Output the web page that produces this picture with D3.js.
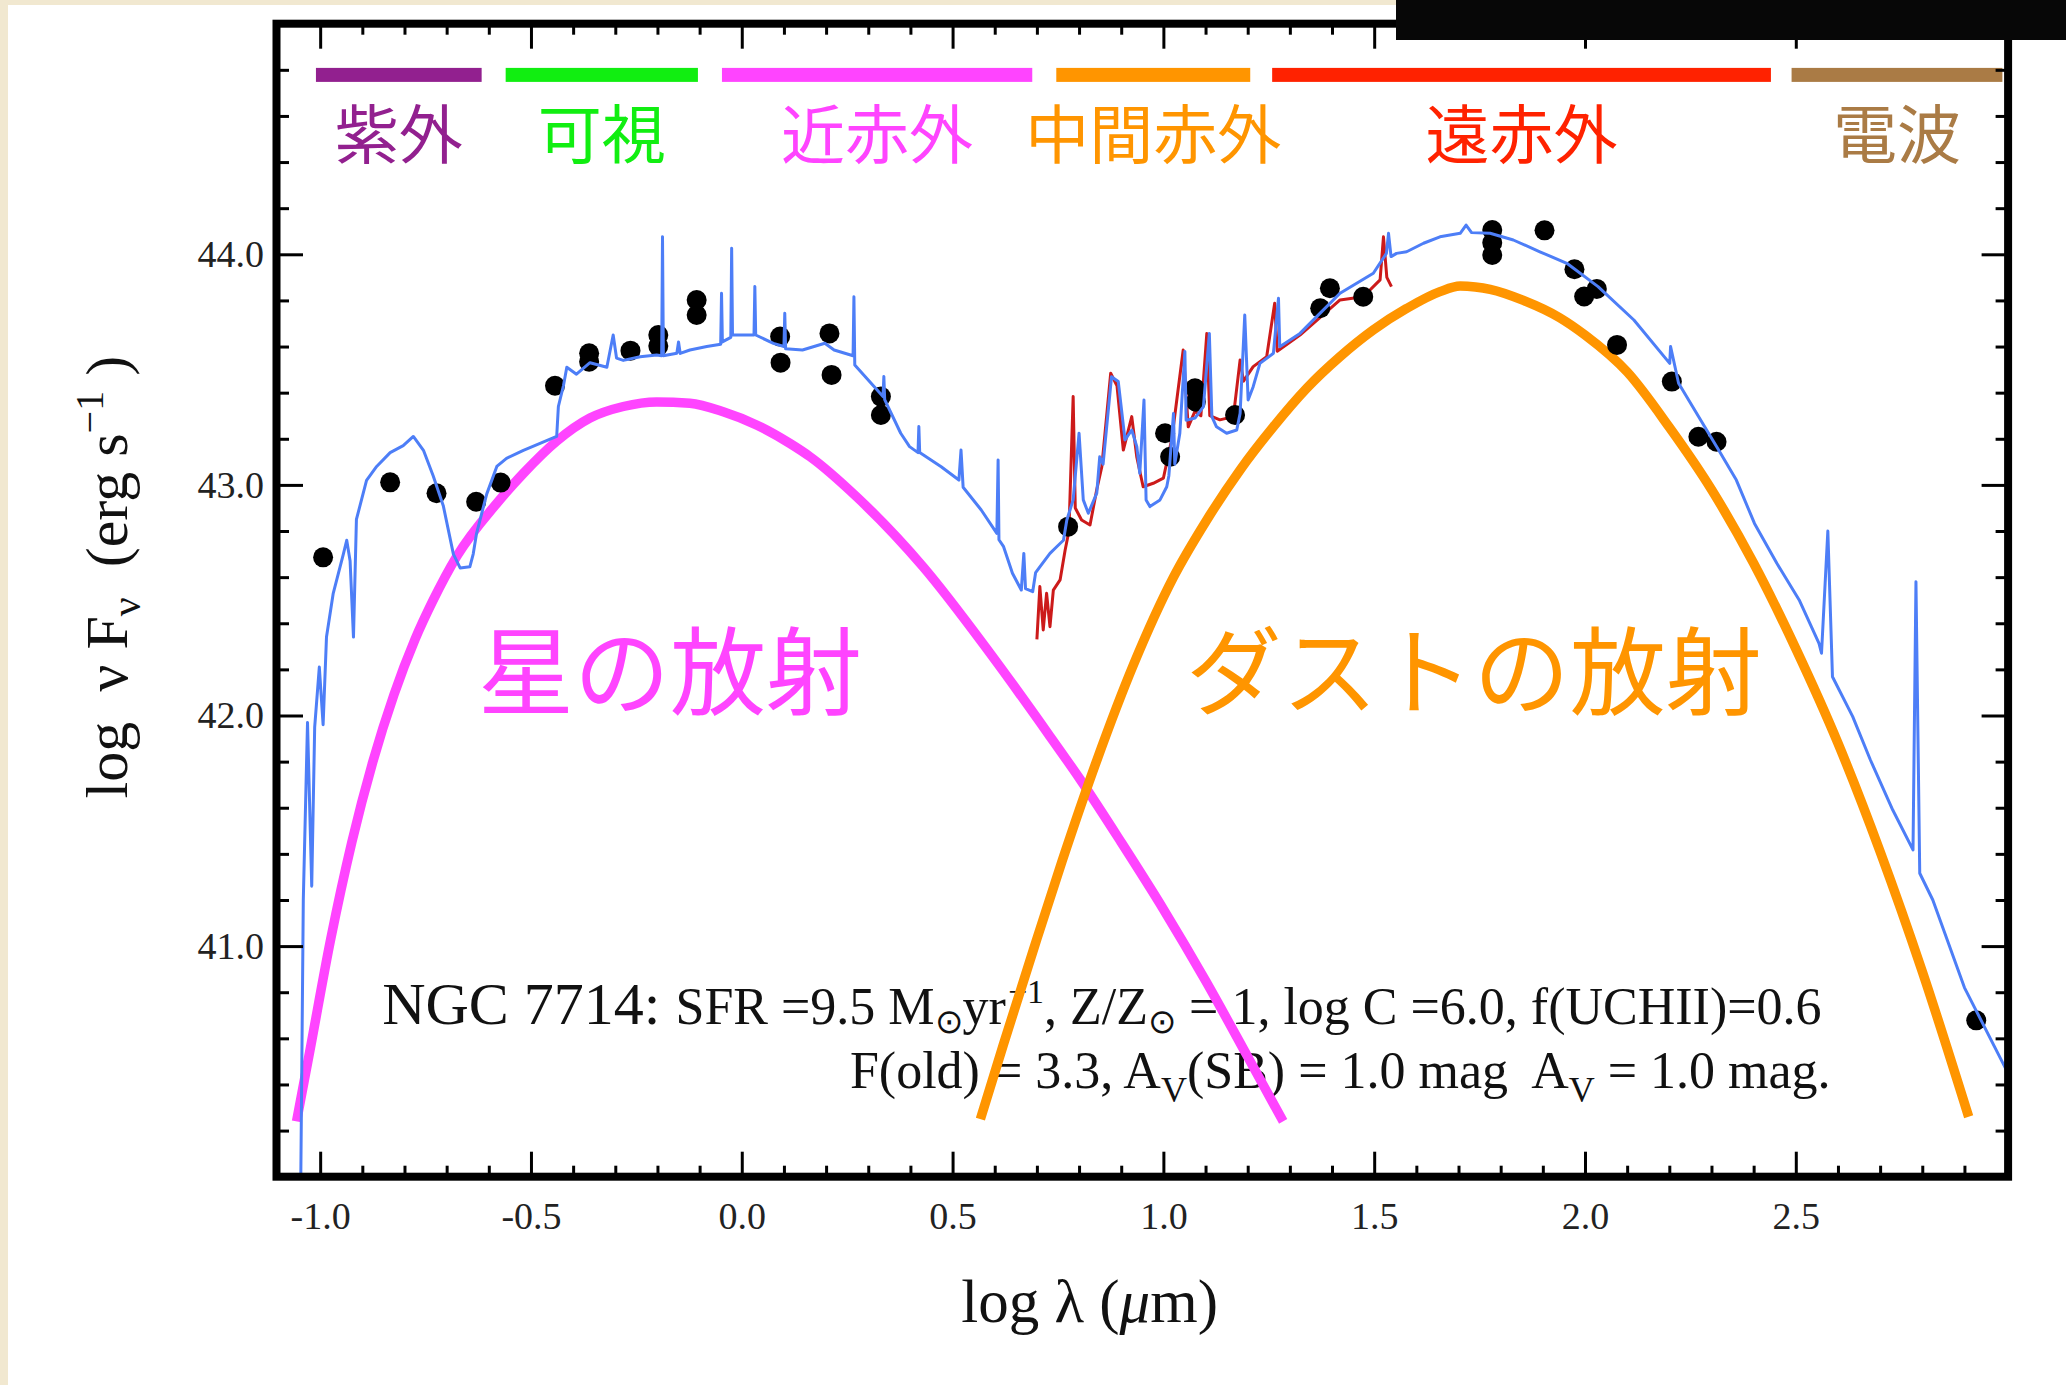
<!DOCTYPE html>
<html>
<head>
<meta charset="utf-8">
<script src="https://cdn.jsdelivr.net/npm/d3@7"></script>
<style>
  html, body { margin: 0; padding: 0; background: #f1e8d0; }
  svg { display: block; }
</style>
</head>
<body>
<div id="chart"></div>
<script>
// wavelength bands (log lambda), labels and colours
const bandNames = ['紫外', '可視', '近赤外', '中間赤外', '遠赤外', '電波'];
const bandStart = [-1.01, -0.56, -0.047, 0.746, 1.258, 2.49];
const bandEnd = [-0.617, -0.104, 0.689, 1.206, 2.441, 2.99];
const bandColors = ['#92208f', '#11ee11', '#ff44ff', '#ff9500', '#ff2200', '#aa7b45'];

// photometry points [log lambda, log nuFnu]
const photometry = [
  [-0.993, 42.686], [-0.834, 43.011], [-0.724, 42.964], [-0.630, 42.927], [-0.572, 43.010],
  [-0.443, 43.430], [-0.362, 43.571], [-0.362, 43.534], [-0.264, 43.582], [-0.198, 43.650],
  [-0.198, 43.602], [-0.107, 43.802], [-0.107, 43.737], [0.091, 43.643], [0.092, 43.530],
  [0.208, 43.657], [0.213, 43.477], [0.330, 43.383], [0.330, 43.303], [0.774, 42.819],
  [1.004, 43.224], [1.016, 43.122], [1.075, 43.419], [1.077, 43.361], [1.170, 43.303],
  [1.395, 43.853], [1.372, 43.766], [1.474, 43.816], [1.780, 44.105], [1.780, 44.050],
  [1.780, 43.997], [1.904, 44.104], [1.975, 43.935], [1.998, 43.817], [2.028, 43.850],
  [2.076, 43.607], [2.206, 43.448], [2.269, 43.209], [2.312, 43.187], [2.928, 40.678]
];

// stellar emission component
const stellar = [
  [-1.056, 40.24], [-1.025, 40.54], [-0.975, 41.03], [-0.925, 41.45], [-0.875, 41.80],
  [-0.825, 42.09], [-0.775, 42.33], [-0.732, 42.50], [-0.676, 42.69], [-0.581, 42.92],
  [-0.518, 43.05], [-0.439, 43.19], [-0.360, 43.29], [-0.281, 43.34], [-0.202, 43.36],
  [-0.123, 43.354], [-0.044, 43.317], [0.035, 43.26], [0.114, 43.18], [0.162, 43.122],
  [0.272, 42.949], [0.430, 42.645], [0.589, 42.27], [0.727, 41.92], [0.800, 41.73],
  [0.900, 41.45], [1.000, 41.16], [1.100, 40.85], [1.200, 40.52], [1.284, 40.24]
];

// dust emission component
const dust = [
  [0.566, 40.25], [0.620, 40.57], [0.691, 40.98], [0.760, 41.37], [0.843, 41.81],
  [0.929, 42.22], [1.024, 42.60], [1.103, 42.848], [1.182, 43.065], [1.261, 43.252],
  [1.340, 43.419], [1.419, 43.556], [1.498, 43.672], [1.577, 43.765], [1.656, 43.838],
  [1.704, 43.862], [1.740, 43.858], [1.775, 43.848], [1.854, 43.80], [1.940, 43.725],
  [2.000, 43.65], [2.100, 43.49], [2.200, 43.25], [2.300, 42.98], [2.400, 42.66],
  [2.500, 42.29], [2.600, 41.88], [2.700, 41.41], [2.800, 40.89], [2.910, 40.26]
];

// total model spectrum
const model = [
  [-1.046, 39.98], [-1.040, 41.2], [-1.030, 41.97], [-1.020, 41.26], [-1.013, 41.95],
  [-1.002, 42.21], [-0.993, 41.96], [-0.985, 42.34], [-0.969, 42.53], [-0.945, 42.70],
  [-0.937, 42.76], [-0.929, 42.67], [-0.921, 42.34], [-0.914, 42.85], [-0.890, 43.02],
  [-0.866, 43.08], [-0.834, 43.14], [-0.803, 43.17], [-0.779, 43.21], [-0.755, 43.15],
  [-0.732, 43.04], [-0.708, 42.91], [-0.684, 42.70], [-0.668, 42.64], [-0.645, 42.645],
  [-0.637, 42.70], [-0.629, 42.79], [-0.605, 42.96], [-0.581, 43.08], [-0.558, 43.115],
  [-0.518, 43.15], [-0.439, 43.21], [-0.435, 43.34], [-0.423, 43.43], [-0.415, 43.51],
  [-0.392, 43.48], [-0.360, 43.53], [-0.320, 43.51], [-0.305, 43.65], [-0.297, 43.55],
  [-0.281, 43.54], [-0.241, 43.556], [-0.202, 43.563], [-0.190, 43.56], [-0.188, 44.076],
  [-0.186, 43.56], [-0.154, 43.571], [-0.150, 43.62], [-0.146, 43.57], [-0.123, 43.585],
  [-0.083, 43.60], [-0.050, 43.61], [-0.048, 43.831], [-0.046, 43.62], [-0.026, 43.64],
  [-0.024, 44.026], [-0.022, 43.65], [0.029, 43.65], [0.031, 43.86], [0.033, 43.65],
  [0.075, 43.614], [0.100, 43.60], [0.102, 43.744], [0.104, 43.59], [0.144, 43.585],
  [0.197, 43.614], [0.219, 43.585], [0.264, 43.56], [0.266, 43.816], [0.268, 43.52],
  [0.335, 43.383], [0.337, 43.47], [0.339, 43.37], [0.377, 43.224], [0.398, 43.166],
  [0.418, 43.14], [0.420, 43.253], [0.422, 43.14], [0.473, 43.079], [0.515, 43.021],
  [0.520, 43.151], [0.525, 42.99], [0.568, 42.891], [0.605, 42.79], [0.608, 43.108],
  [0.610, 42.762], [0.621, 42.732], [0.642, 42.617], [0.663, 42.544], [0.669, 42.703],
  [0.673, 42.55], [0.690, 42.537], [0.697, 42.62], [0.707, 42.645], [0.731, 42.703],
  [0.747, 42.732], [0.763, 42.76], [0.771, 42.848], [0.786, 42.935], [0.800, 43.224],
  [0.810, 42.935], [0.822, 42.877], [0.842, 42.964], [0.849, 43.122], [0.857, 43.09],
  [0.877, 43.469], [0.893, 43.448], [0.909, 43.195], [0.925, 43.238], [0.937, 43.166],
  [0.944, 43.05], [0.954, 43.368], [0.959, 42.935], [0.968, 42.906], [0.992, 42.935],
  [1.008, 42.992], [1.013, 43.04], [1.024, 43.31], [1.027, 43.09], [1.039, 43.224],
  [1.051, 43.578], [1.054, 43.28], [1.075, 43.29], [1.095, 43.339], [1.109, 43.657],
  [1.115, 43.296], [1.126, 43.252], [1.150, 43.224], [1.174, 43.238], [1.182, 43.31],
  [1.193, 43.737], [1.201, 43.368], [1.213, 43.426], [1.229, 43.527], [1.261, 43.571],
  [1.273, 43.809], [1.276, 43.599], [1.324, 43.657], [1.379, 43.758], [1.419, 43.831],
  [1.498, 43.918], [1.529, 44.004], [1.534, 44.091], [1.540, 43.99], [1.553, 44.004],
  [1.577, 44.011], [1.617, 44.048], [1.656, 44.076], [1.704, 44.091], [1.718, 44.127],
  [1.731, 44.094], [1.775, 44.091], [1.830, 44.062], [1.893, 44.011], [1.957, 43.961],
  [2.031, 43.86], [2.116, 43.715], [2.201, 43.527], [2.203, 43.6], [2.222, 43.441],
  [2.317, 43.151], [2.359, 43.021], [2.402, 42.833], [2.455, 42.66], [2.508, 42.501],
  [2.555, 42.313], [2.561, 42.27], [2.576, 42.80], [2.587, 42.168], [2.635, 41.995],
  [2.677, 41.807], [2.730, 41.59], [2.778, 41.417], [2.785, 42.58], [2.794, 41.316],
  [2.825, 41.2], [2.900, 40.82], [3.003, 40.45]
];

// IRS spectrum
const irs = [
  [0.700, 42.33], [0.707, 42.559], [0.715, 42.371], [0.723, 42.53], [0.731, 42.385],
  [0.739, 42.544], [0.755, 42.588], [0.767, 42.718], [0.776, 42.80], [0.786, 43.383],
  [0.791, 42.90], [0.806, 42.848], [0.826, 42.826], [0.842, 42.98], [0.854, 43.079],
  [0.875, 43.484], [0.890, 43.43], [0.905, 43.151], [0.925, 43.296], [0.937, 43.12],
  [0.952, 42.992], [0.976, 43.007], [1.000, 43.029], [1.020, 43.20], [1.047, 43.585],
  [1.059, 43.252], [1.075, 43.32], [1.089, 43.30], [1.103, 43.657], [1.110, 43.30],
  [1.134, 43.282], [1.166, 43.296], [1.182, 43.542], [1.190, 43.45], [1.213, 43.513],
  [1.245, 43.556], [1.264, 43.788], [1.270, 43.58], [1.324, 43.65], [1.380, 43.74],
  [1.419, 43.802], [1.474, 43.816], [1.514, 43.889], [1.522, 44.076], [1.530, 43.90],
  [1.541, 43.86]
];

const xTicksMajor = [-1.0, -0.5, 0.0, 0.5, 1.0, 1.5, 2.0, 2.5];
const yTicksMajor = [41.0, 42.0, 43.0, 44.0];

const W = 2066, H = 1385;
const serif = '"Liberation Serif", "Times New Roman", serif';
const cjk = '"Noto Sans CJK JP", sans-serif';

const svg = d3.select('#chart').append('svg').attr('width', W).attr('height', H);
svg.append('rect').attr('x', 8).attr('y', 5).attr('width', W - 8).attr('height', H - 5).attr('fill', '#fff');

const x = d3.scaleLinear().domain([-1.1, 3.0]).range([278, 2006.6]);
const y = d3.scaleLinear().domain([40, 45]).range([1176.7, 23.7]);
const [x0, x1] = x.range(), [y0, y1] = y.range();

svg.append('clipPath').attr('id', 'plot').append('rect')
  .attr('x', x0).attr('y', y1).attr('width', x1 - x0).attr('height', y0 - y1);

// text notes (drawn under the curves)
const note1 = svg.append('text').attr('x', x(-0.853)).attr('y', y(40.663))
  .attr('font-family', serif).attr('fill', '#111').style('white-space', 'pre');
note1.append('tspan').attr('font-size', 60).text('NGC 7714: ');
note1.append('tspan').attr('font-size', 52).text('SFR =9.5 M');
note1.append('tspan').attr('font-size', 34).attr('dy', 9).text('⊙');
note1.append('tspan').attr('font-size', 52).attr('dy', -9).text('yr');
note1.append('tspan').attr('font-size', 34).attr('dx', 2).attr('dy', -21).text('−1');
note1.append('tspan').attr('font-size', 52).attr('dy', 21).text(', Z/Z');
note1.append('tspan').attr('font-size', 34).attr('dy', 9).text('⊙');
note1.append('tspan').attr('font-size', 52).attr('dy', -9).text(' = 1, log C =6.0, f(UCHII)=0.6');

const note2 = svg.append('text').attr('x', x(0.2565)).attr('y', y(40.383))
  .attr('font-family', serif).attr('font-size', 52).attr('fill', '#111').style('white-space', 'pre');
note2.append('tspan').text('F(old) = 3.3, A');
note2.append('tspan').attr('font-size', 36).attr('dy', 14).text('V');
note2.append('tspan').attr('dy', -14).text('(SB) = 1.0 mag  A');
note2.append('tspan').attr('font-size', 36).attr('dy', 14).text('V');
note2.append('tspan').attr('dy', -14).text(' = 1.0 mag.');

// component labels
svg.append('text').attr('x', x(-0.170)).attr('y', y(42.215)).attr('text-anchor', 'middle')
  .attr('dominant-baseline', 'central').attr('font-family', cjk).attr('font-size', 96)
  .attr('fill', '#ff44ff').text('星の放射');
svg.append('text').attr('x', x(1.736)).attr('y', y(42.215)).attr('text-anchor', 'middle')
  .attr('dominant-baseline', 'central').attr('font-family', cjk).attr('font-size', 96)
  .attr('fill', '#ff9500').text('ダストの放射');

// band bars and labels
const bands = bandNames.map((name, i) => ({ name, s: bandStart[i], e: bandEnd[i], c: bandColors[i] }));
svg.selectAll('.band').data(bands).join('rect').attr('class', 'band')
  .attr('x', d => x(d.s)).attr('width', d => x(d.e) - x(d.s))
  .attr('y', y(44.778) - 7).attr('height', 14).attr('fill', d => d.c);
svg.selectAll('.band-label').data(bands).join('text').attr('class', 'band-label')
  .attr('x', d => x((d.s + d.e) / 2)).attr('y', y(44.538))
  .attr('text-anchor', 'middle').attr('dominant-baseline', 'central')
  .attr('font-family', cjk).attr('font-size', 64).attr('fill', d => d.c).text(d => d.name);

const g = svg.append('g').attr('clip-path', 'url(#plot)');
const lineLin = d3.line().x(d => x(d[0])).y(d => y(d[1]));
const lineSmooth = d3.line().x(d => x(d[0])).y(d => y(d[1])).curve(d3.curveMonotoneX);

g.append('path').attr('d', lineSmooth(stellar)).attr('fill', 'none').attr('stroke', '#ff44ff').attr('stroke-width', 9.5);
g.append('path').attr('d', lineSmooth(dust)).attr('fill', 'none').attr('stroke', '#ff9500').attr('stroke-width', 9.5);
g.append('path').attr('d', lineLin(irs)).attr('fill', 'none').attr('stroke', '#cc1a1a').attr('stroke-width', 3).attr('stroke-linejoin', 'round');

g.selectAll('circle').data(photometry).join('circle')
  .attr('cx', d => x(d[0])).attr('cy', d => y(d[1])).attr('r', 10).attr('fill', '#000');

g.append('path').attr('d', lineLin(model)).attr('fill', 'none').attr('stroke', '#4d7ef7').attr('stroke-width', 3).attr('stroke-linejoin', 'round');

// axes: inward ticks on all four sides
const xMinor = d3.range(-11, 31).map(i => i / 10).filter(v => Math.abs(v * 2 - Math.round(v * 2)) > 1e-6);
const yMinor = d3.range(200, 226).map(i => i / 5).filter(v => Math.abs(v - Math.round(v)) > 1e-6);
const yMajorAll = [40, ...yTicksMajor, 45];

function tickAxis(axis, scale, values, len, translate) {
  const ag = svg.append('g').attr('transform', translate)
    .call(axis(scale).tickValues(values).tickSizeInner(-len).tickSizeOuter(0).tickFormat(''));
  ag.select('.domain').remove();
  ag.selectAll('line').attr('stroke', '#000').attr('stroke-width', 3);
  return ag;
}

const bx = svg.append('g').attr('transform', `translate(0,${y0})`)
  .call(d3.axisBottom(x).tickValues(xTicksMajor).tickSizeInner(-25).tickSizeOuter(0).tickPadding(25).tickFormat(d => d.toFixed(1)));
bx.select('.domain').remove();
bx.selectAll('line').attr('stroke', '#000').attr('stroke-width', 3);
bx.selectAll('text').attr('font-family', serif).attr('font-size', 38).attr('fill', '#222');
tickAxis(d3.axisBottom, x, xMinor, 11, `translate(0,${y0})`);
tickAxis(d3.axisTop, x, xTicksMajor, 25, `translate(0,${y1})`);
tickAxis(d3.axisTop, x, xMinor, 11, `translate(0,${y1})`);

const ly = svg.append('g').attr('transform', `translate(${x0},0)`)
  .call(d3.axisLeft(y).tickValues(yTicksMajor).tickSizeInner(-25).tickSizeOuter(0).tickPadding(14).tickFormat(d => d.toFixed(1)));
ly.select('.domain').remove();
ly.selectAll('line').attr('stroke', '#000').attr('stroke-width', 3);
ly.selectAll('text').attr('font-family', serif).attr('font-size', 38).attr('fill', '#222');
tickAxis(d3.axisLeft, y, yMinor, 11, `translate(${x0},0)`);
tickAxis(d3.axisRight, y, yMajorAll, 25, `translate(${x1},0)`);
tickAxis(d3.axisRight, y, yMinor, 11, `translate(${x1},0)`);

// frame
svg.append('rect').attr('x', x0 - 1.5).attr('y', y1).attr('width', x1 - x0 + 3).attr('height', y0 - y1)
  .attr('fill', 'none').attr('stroke', '#000').attr('stroke-width', 8);

// axis titles
svg.append('text').attr('x', x(0.825)).attr('y', 1322).attr('text-anchor', 'middle')
  .attr('font-family', serif).attr('font-size', 61).attr('fill', '#111')
  .call(t => {
    t.append('tspan').text('log λ (');
    t.append('tspan').attr('font-style', 'italic').text('μ');
    t.append('tspan').text('m)');
  });

const yt = svg.append('text').attr('transform', `translate(127,${y(42.6)}) rotate(-90)`)
  .attr('text-anchor', 'middle').attr('font-family', serif).attr('font-size', 60).attr('fill', '#111')
  .style('white-space', 'pre');
yt.append('tspan').text('log  ν F');
yt.append('tspan').attr('font-size', 42).attr('dy', 13).text('ν');
yt.append('tspan').attr('dy', -13).text('  (erg s');
yt.append('tspan').attr('font-size', 40).attr('dy', -24).text('−1');
yt.append('tspan').attr('dy', 24).text(' )');

// dark strip at the top right of the picture
svg.append('rect').attr('x', 1396).attr('y', 0).attr('width', W - 1396).attr('height', 40).attr('fill', '#070707');
</script>
</body>
</html>
